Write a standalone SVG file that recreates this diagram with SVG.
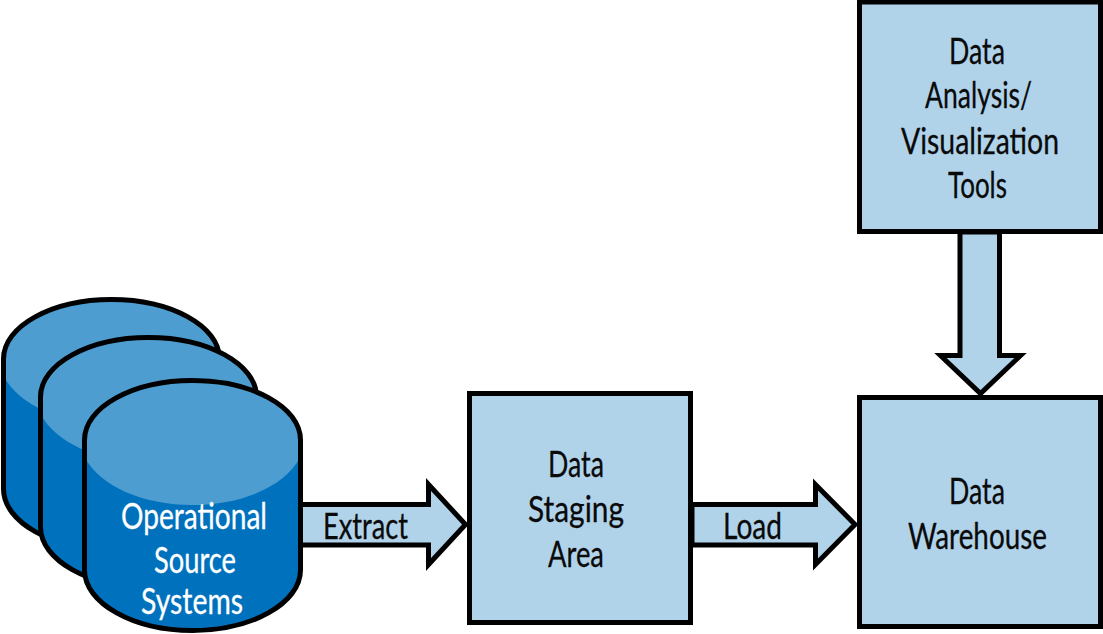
<svg xmlns="http://www.w3.org/2000/svg" width="1103" height="634" viewBox="0 0 1103 634">
  <style>
    .box { fill: #b0d3ea; stroke: #000; stroke-width: 5; }
    .arrow { fill: #b0d3ea; stroke: #000; stroke-width: 5; stroke-miterlimit: 10; }
    .side { fill: #0071bc; stroke: none; }
    .top { fill: #4d9dd0; stroke: none; }
    .rim { fill: none; stroke: #000; stroke-width: 5; }
    text { font-family: "Lato", "Open Sans", sans-serif; font-size: 36px; fill: #0a0a0a; stroke: #0a0a0a; stroke-width: 0.3; }
    text.light { fill: #fff; stroke: #fff; }
  </style>
  <defs>
    <!-- One drum, drawn at the position of the front one -->
    <g id="drum">
      <path class="side" d="M84.5,440 C84.5,407 133,380.5 192.5,380.5 S300.5,407 300.5,440 V570 C300.5,603 252,630.5 192.5,630.5 S84.5,603 84.5,570 Z"/>
      <path class="top" d="M84.5,440 C84.5,407 133,380.5 192.5,380.5 S300.5,407 300.5,440 V457 C285,486 243,505 192.5,505 S100,486 84.5,457 Z"/>
      <path class="rim" d="M84.5,440 C84.5,407 133,380.5 192.5,380.5 S300.5,407 300.5,440 V570 C300.5,603 252,630.5 192.5,630.5 S84.5,603 84.5,570 Z"/>
    </g>
  </defs>

  <g id="connectors">
    <path id="extract-arrow" class="arrow" d="M300,504.500 H428.500 V484.500 L465.500,524.500 L428.500,564.500 V545 H300 Z"/>
    <path id="load-arrow" class="arrow" d="M692,504.500 H815.500 V484.500 L855,524.500 L815.500,564.500 V545 H692 Z"/>
    <path id="query-arrow" class="arrow" d="M960,232 V355.500 H940.500 L980.500,393.500 L1020.500,355.500 H999.500 V232 Z"/>
    <text x="323" y="539" textLength="85" lengthAdjust="spacingAndGlyphs">Extract</text>
    <text x="723" y="539" textLength="59" lengthAdjust="spacingAndGlyphs">Load</text>
  </g>

  <g id="source-systems">
    <use href="#drum" x="-81" y="-81"/>
    <use href="#drum" x="-44" y="-43"/>
    <use href="#drum"/>
    <text class="light" x="121" y="529" textLength="146" lengthAdjust="spacingAndGlyphs">Operational</text>
    <text class="light" x="154" y="573" textLength="82" lengthAdjust="spacingAndGlyphs">Source</text>
    <text class="light" x="141" y="614" textLength="102" lengthAdjust="spacingAndGlyphs">Systems</text>
  </g>

  <g id="staging-area">
    <rect class="box" x="469.500" y="393.500" width="221" height="229"/>
    <text x="548" y="477" textLength="56" lengthAdjust="spacingAndGlyphs">Data</text>
    <text x="528" y="522" textLength="96" lengthAdjust="spacingAndGlyphs">Staging</text>
    <text x="548" y="567" textLength="56" lengthAdjust="spacingAndGlyphs">Area</text>
  </g>

  <g id="warehouse">
    <rect class="box" x="859.500" y="397.500" width="241" height="229"/>
    <text x="949" y="504" textLength="56" lengthAdjust="spacingAndGlyphs">Data</text>
    <text x="908" y="549" textLength="139" lengthAdjust="spacingAndGlyphs">Warehouse</text>
  </g>

  <g id="analysis-tools">
    <rect class="box" x="859.500" y="2" width="241" height="229.500"/>
    <text x="949" y="64" textLength="56" lengthAdjust="spacingAndGlyphs">Data</text>
    <text x="925" y="108" textLength="107" lengthAdjust="spacingAndGlyphs">Analysis/</text>
    <text x="901" y="154" textLength="158" lengthAdjust="spacingAndGlyphs">Visualization</text>
    <text x="948" y="198" textLength="59" lengthAdjust="spacingAndGlyphs">Tools</text>
  </g>
</svg>
